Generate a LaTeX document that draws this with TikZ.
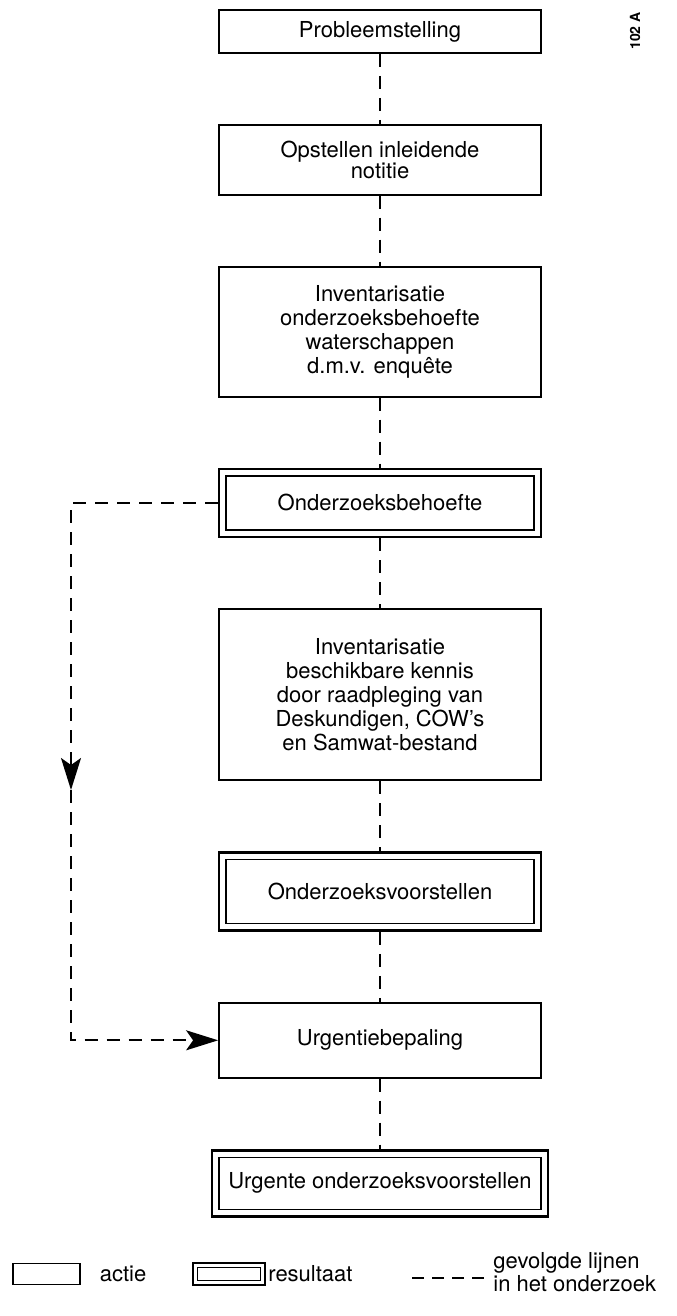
\documentclass[tikz,border=0pt]{standalone}
\usepackage{fontspec}
\setmainfont{TeX Gyre Heros}
\usetikzlibrary{positioning,arrows.meta}

\begin{document}
\begin{tikzpicture}[
        x=0.5pt, y=-0.5pt,
        node distance=35pt,
        every node/.style={font=\fontsize{11}{12}\selectfont},
        actie/.style={draw, line width=0.9pt, minimum width=161pt, align=center, inner sep=2pt},
        resultaat/.style={draw, line width=1.4pt, minimum width=161pt, align=center, inner sep=2pt,
            path picture={\draw[line width=0.6pt]
                ([shift={(#1,-#1)}]path picture bounding box.north west) rectangle
                ([shift={(-#1,#1)}]path picture bounding box.south east);}},
        resultaat/.default=3.5pt,
        legtekst/.style={inner sep=0pt},
        lijn/.style={dash pattern=on 6.5pt off 4.5pt, line width=0.9pt},
        pijl/.style={-{Stealth[length=16pt, width=10pt, inset=3.5pt]}}
    ]
        \useasboundingbox (0,0) rectangle (676,1316);

        % Main column: actions and results
        \node[actie, minimum height=21.5pt] (prob) at (380,31.5) {Probleemstelling};
        \node[actie, minimum height=35pt, below=of prob] (opst) {Opstellen inleidende\\[-1.5pt]notitie};
        \node[actie, minimum height=65pt, below=of opst] (enq) {Inventarisatie\\onderzoeksbehoefte\\waterschappen\\d.m.v. enquête};
        \node[resultaat, minimum height=34pt, below=of enq] (beh) {Onderzoeksbehoefte};
        \node[actie, minimum height=85.5pt, below=of beh] (kennis) {Inventarisatie\\beschikbare kennis\\door raadpleging van\\Deskundigen, COW's\\en Samwat-bestand};
        \node[resultaat, minimum height=39pt, below=of kennis] (voor) {Onderzoeksvoorstellen};
        \node[actie, minimum height=37.5pt, below=of voor] (urg) {Urgentiebepaling};
        \node[resultaat, minimum height=33pt, minimum width=168pt, below=of urg] (urgvoor) {Urgente onderzoeksvoorstellen};

        % Figure number
        \node[rotate=90, font=\fontsize{7}{8}\selectfont\bfseries] (nr) at (635,31) {102 A};

        % Lines followed in the study
        \draw[lijn] (prob.south) -- (opst.north);
        \draw[lijn] (opst.south) -- (enq.north);
        \draw[lijn] (enq.south) -- (beh.north);
        \draw[lijn] (beh.south) -- (kennis.north);
        \draw[lijn] (kennis.south) -- (voor.north);
        \draw[lijn] (voor.south) -- (urg.north);
        \draw[lijn] (urg.south) -- (urgvoor.north);

        % Side route straight to the urgency step
        \coordinate (hoek) at (71,0 |- beh.west);
        \coordinate (pijlpunt) at (71,790);
        \draw[lijn, pijl] (beh.west) -- (hoek) -- (pijlpunt);
        \draw[lijn, pijl] (pijlpunt) |- (urg.west);

        % Legend
        \node[actie, minimum width=33.5pt, minimum height=10.5pt] (legactie) at (46.5,1274) {};
        \node[legtekst] (tactie) at (123,1274) {actie};
        \node[resultaat=2.2pt, minimum width=36pt, minimum height=11pt] (legres) at (229,1274) {};
        \node[legtekst, anchor=west] (tres) at (268,1274) {resultaat};
        \coordinate (lijnA) at (412,1278);
        \coordinate (lijnB) at (485,1278);
        \draw[lijn, dash pattern=on 6pt off 4pt] (lijnA) -- (lijnB);
        \node[legtekst, anchor=west, align=left, font=\fontsize{11}{10}\selectfont] (tlijn) at (493,1272) {gevolgde lijnen\\in het onderzoek};

    \end{tikzpicture}
\end{document}
